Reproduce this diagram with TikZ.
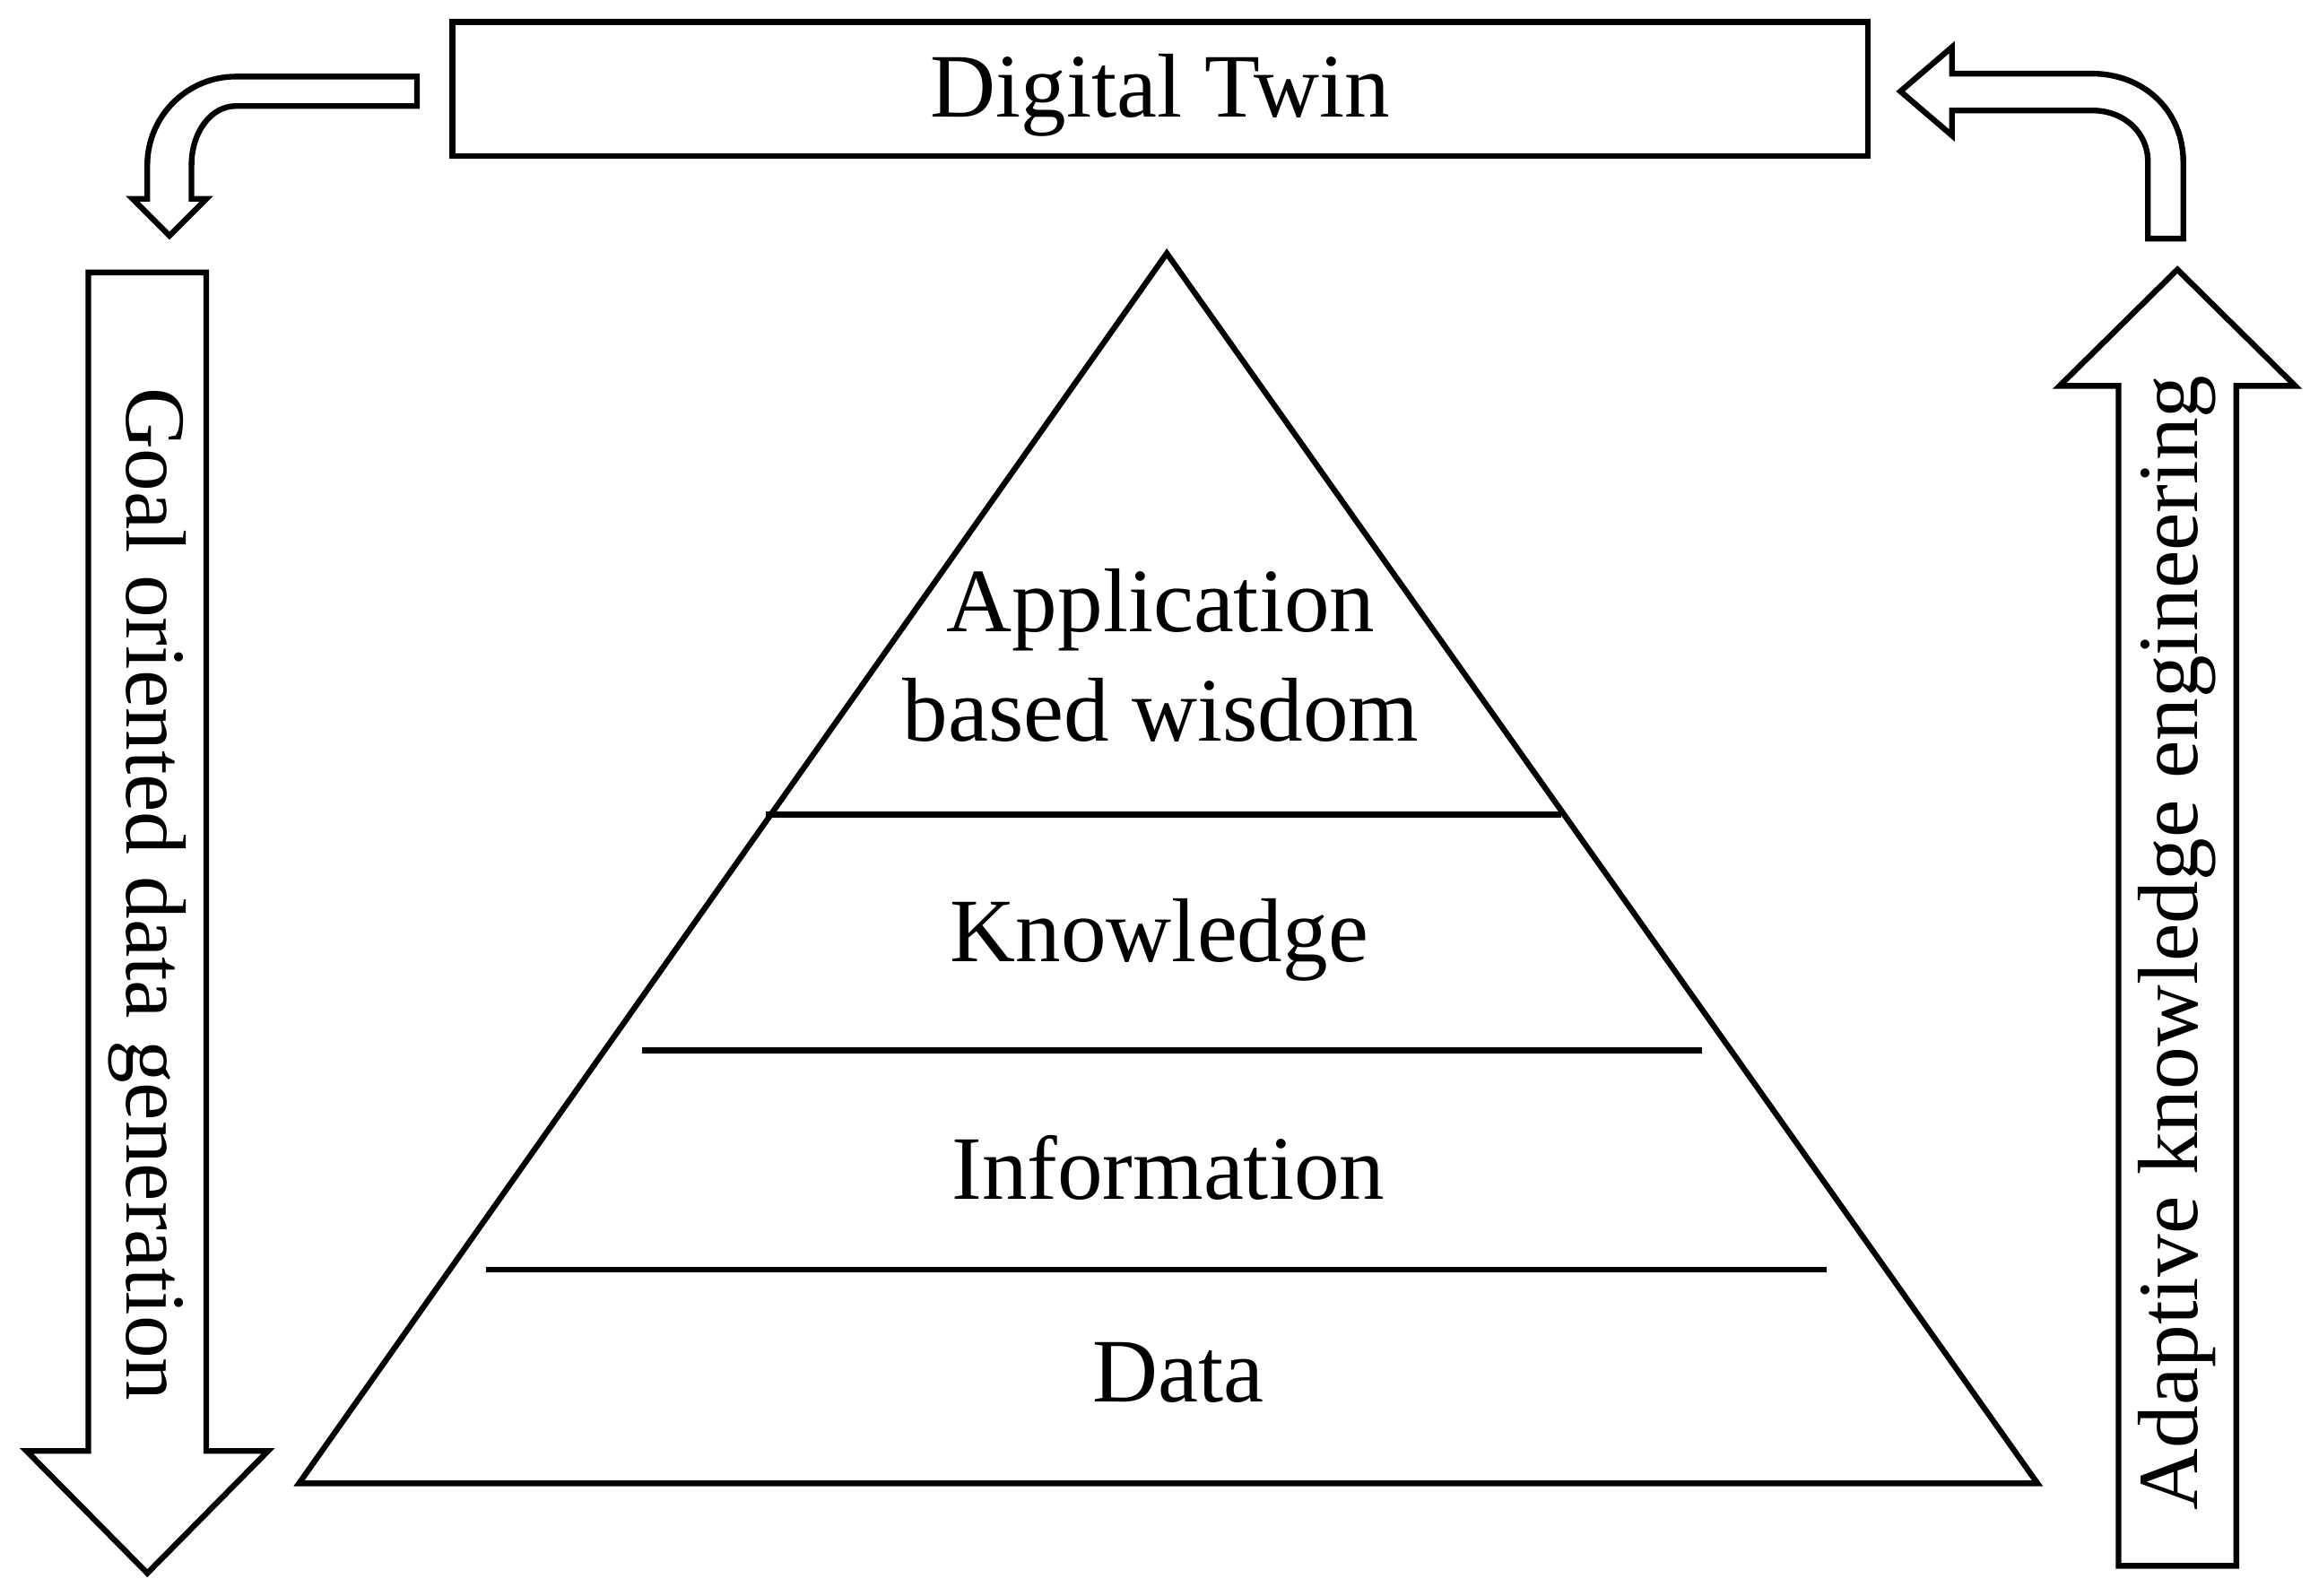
\documentclass[tikz,border=0pt]{standalone}
\usepackage{fontspec}
\setmainfont{Liberation Serif}
\begin{document}
\begin{tikzpicture}[x=0.01cm,y=-0.01cm,line width=1.1pt,
  lbl/.style={font=\fontsize{17.5}{21}\selectfont, inner sep=0pt},
  slbl/.style={font=\fontsize{16.5}{20}\selectfont, inner sep=0pt},
  outl/.style={draw=black, fill=white, line join=miter}]
\useasboundingbox (0,0) rectangle (1568,1083);
% Digital Twin box
\draw (307,15) rectangle (1268,106);
\node[lbl] (dt) at (787.5,65) {Digital Twin};
% pyramid
\coordinate (apex) at (792,172);
\coordinate (bl) at (203,1007);
\coordinate (br) at (1383,1007);
\draw[line join=miter] (apex) -- (bl) -- (br) -- cycle;
\draw (520,553) -- (1060,553);
\draw (436,713) -- (1155,713);
\draw (330,862) -- (1240,862);
\node[lbl, align=center] (wis) at (788,445) {Application\\[0pt]based wisdom};
\node[lbl] (kn) at (787,638) {Knowledge};
\node[lbl] (inf) at (793,793) {Information};
\node[lbl] (da) at (800,932) {Data};
% left down arrow
\draw[outl] (60,185) -- (140,185) -- (140,985) -- (182,985) -- (100,1068) -- (18,985) -- (60,985) -- cycle;
\node[slbl, rotate=-90] (goal) at (100,607) {Goal oriented data generation};
% right up arrow
\draw[outl] (1438,1063) -- (1518,1063) -- (1518,262) -- (1558,262) -- (1478,183) -- (1398,262) -- (1438,262) -- cycle;
\node[slbl, rotate=90] (adap) at (1478,640) {Adaptive knowledge engineering};
% top-left bent arrow
\draw[outl] (283,52) -- (160,52) .. controls (127,52) and (100,79) .. (100,112) -- (100,135) -- (90,135) -- (115,160) -- (140,135) -- (130,135) -- (130,112) .. controls (130,90) and (143,72) .. (160,72) -- (283,72) -- cycle;
% top-right bent arrow
\draw[outl] (1482,162) -- (1482,110) .. controls (1482,75) and (1455,50) .. (1420,50) -- (1325,50) -- (1325,32) -- (1290,62) -- (1325,92) -- (1325,75) -- (1420,75) .. controls (1442,75) and (1458,90) .. (1458,110) -- (1458,162) -- cycle;
\end{tikzpicture}
\end{document}
